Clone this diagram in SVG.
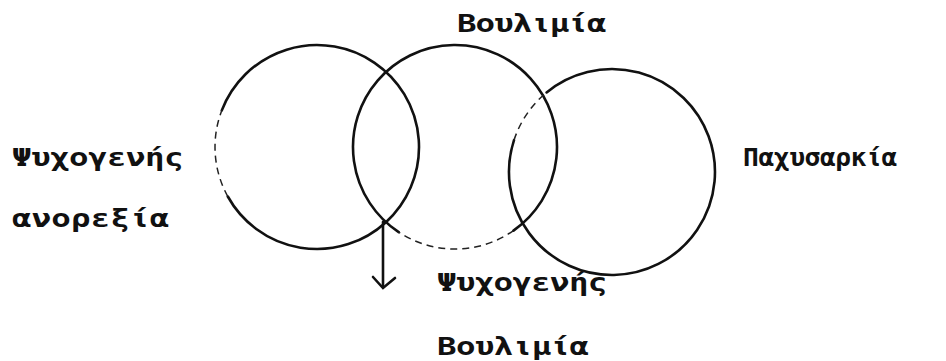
<svg xmlns="http://www.w3.org/2000/svg" width="946" height="361" viewBox="0 0 946 361">
<style>
.t{font-family:"DejaVu Sans Mono","Liberation Mono",monospace;font-size:25px;font-weight:bold;fill:#111}
.c{fill:none;stroke:#111;stroke-width:2.6;stroke-linecap:round}
.d{fill:none;stroke:#222;stroke-width:1.5;stroke-dasharray:7 5}
</style>
<rect width="946" height="361" fill="#fff"/>
<g id="node-anorexia">
<path class="c" d="M221.8,110.4 A102,102 0 1 1 227.8,196.5"/>
<path class="d" d="M227.8,196.5 A102,102 0 0 1 221.8,110.4"/>
</g>
<g id="node-boulimia">
<path class="c" d="M398.7,232.1 A102,102 0 1 1 513.5,230.6"/>
<path class="d" d="M513.5,230.6 A102,102 0 0 1 398.7,232.1"/>
</g>
<g id="node-obesity">
<path class="c" d="M546.6,92.4 A103,103 0 1 1 514,140.2"/>
<path class="d" d="M514,140.2 A103,103 0 0 1 546.6,92.4"/>
</g>
<g id="connectors">
<line class="c" x1="383" y1="222" x2="383" y2="287"/>
<polyline class="c" points="373,277 383,288 395,278"/>
</g>
<g id="labels">
<text class="t" transform="translate(457,32) scale(1.3,1)" textLength="115" lengthAdjust="spacing">Βουλιμία</text>
<text class="t" transform="translate(12,166) scale(1.3,1)" textLength="132" lengthAdjust="spacing">Ψυχογενής</text>
<text class="t" transform="translate(12,227) scale(1.3,1)" textLength="121" lengthAdjust="spacing">ανορεξία</text>
<text class="t" transform="translate(743,166) scale(1.05,1)" textLength="147" lengthAdjust="spacing">Παχυσαρκία</text>
<text class="t" transform="translate(437,291) scale(1.3,1)" textLength="131" lengthAdjust="spacing">Ψυχογενής</text>
<text class="t" transform="translate(437,355) scale(1.3,1)" textLength="117" lengthAdjust="spacing">Βουλιμία</text>
</g>
</svg>
